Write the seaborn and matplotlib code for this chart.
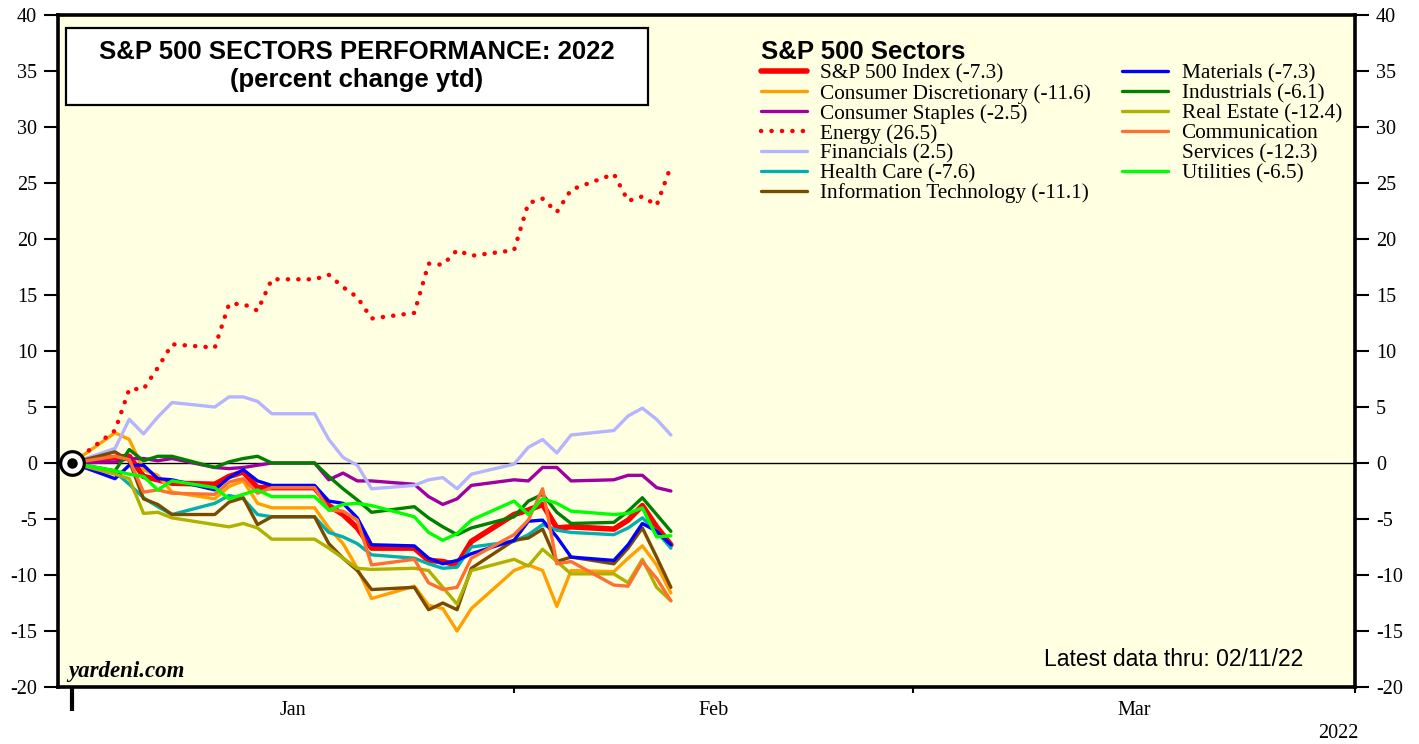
import numpy as np
import pandas as pd
import matplotlib
matplotlib.use("Agg")
import matplotlib.pyplot as plt
import seaborn as sns
from matplotlib.lines import Line2D
from matplotlib.patches import Rectangle

# ---------------- data ----------------
dates = ["2021-12-31",
         "2022-01-03", "2022-01-04", "2022-01-05", "2022-01-06", "2022-01-07",
         "2022-01-10", "2022-01-11", "2022-01-12", "2022-01-13", "2022-01-14",
         "2022-01-17", "2022-01-18", "2022-01-19", "2022-01-20", "2022-01-21",
         "2022-01-24", "2022-01-25", "2022-01-26", "2022-01-27", "2022-01-28",
         "2022-01-31", "2022-02-01", "2022-02-02", "2022-02-03", "2022-02-04",
         "2022-02-07", "2022-02-08", "2022-02-09", "2022-02-10", "2022-02-11"]

sp500 = [0, 0.5, 0.6, -1.2, -1.5, -1.8, -1.9, -1.2, -0.8, -2.2, -2.2, -2.2, -3.8, -4.6, -5.8,
         -7.6, -7.6, -8.7, -8.8, -9.1, -7.0, -4.6, -4.2, -3.7, -5.8, -5.7, -5.9, -5.1, -3.8, -5.7, -7.3]
cons_disc = [0, 2.7, 2.1, -0.6, -1.1, -2.6, -3.2, -2.1, -1.6, -3.6, -4.0, -4.0, -5.8, -7.2, -9.4,
             -12.1, -11.0, -12.7, -13.0, -15.0, -13.0, -9.6, -9.1, -9.6, -12.8, -9.6, -9.7, -8.5, -7.4, -9.1, -11.6]
cons_staples = [0, 0.1, 0.4, 0.4, 0.2, 0.4, -0.4, -0.5, -0.4, -0.2, 0.0, 0.0, -1.5, -0.9, -1.6,
                -1.6, -1.9, -3.0, -3.7, -3.2, -2.0, -1.5, -1.6, -0.4, -0.4, -1.6, -1.5, -1.1, -1.1, -2.2, -2.5]
energy = [0, 2.9, 6.6, 6.6, 8.5, 10.6, 10.3, 14.2, 14.2, 13.6, 16.4, 16.4, 16.8, 15.7, 14.8,
          12.9, 13.4, 17.8, 17.7, 19.0, 18.5, 19.0, 23.2, 23.6, 22.4, 24.4, 25.8, 23.4, 23.8, 23.0, 26.5]
financials = [0, 1.3, 3.9, 2.6, 4.1, 5.4, 5.0, 5.9, 5.9, 5.5, 4.4, 4.4, 2.1, 0.5, -0.2,
              -2.3, -2.0, -1.5, -1.3, -2.3, -1.0, -0.1, 1.4, 2.1, 0.9, 2.5, 2.9, 4.2, 4.9, 3.9, 2.5]
health_care = [0, -0.8, -1.9, -3.1, -3.9, -4.6, -3.6, -2.9, -3.2, -4.6, -4.8, -4.8, -6.2, -6.6, -7.2,
               -8.2, -8.5, -9.0, -9.4, -9.3, -7.5, -7.0, -6.4, -5.5, -6.0, -6.2, -6.4, -5.8, -4.9, -6.1, -7.6]
info_tech = [0, 1.0, 0.2, -3.2, -3.7, -4.6, -4.6, -3.5, -3.1, -5.5, -4.8, -4.8, -7.2, -8.5, -9.6,
             -11.3, -11.1, -13.1, -12.5, -13.1, -9.4, -6.9, -6.7, -5.9, -8.8, -8.4, -9.0, -7.6, -5.8, -8.4, -11.1]
materials = [0, -1.4, -0.2, -0.2, -1.4, -1.5, -2.4, -1.3, -0.6, -1.6, -2.0, -2.0, -3.4, -3.6, -4.9,
             -7.3, -7.4, -8.5, -9.0, -8.7, -8.1, -6.9, -5.2, -5.1, -6.6, -8.4, -8.7, -7.3, -5.4, -6.1, -7.3]
industrials = [0, -0.7, 1.2, 0.2, 0.6, 0.6, -0.4, 0.1, 0.4, 0.6, 0.0, 0.0, -1.2, -2.3, -3.3,
               -4.4, -3.9, -4.9, -5.7, -6.4, -5.8, -4.8, -3.4, -2.8, -4.4, -5.4, -5.3, -4.3, -3.1, -4.6, -6.1]
real_estate = [0, -1.0, -1.4, -4.5, -4.4, -4.9, -5.5, -5.7, -5.4, -5.8, -6.8, -6.8, -7.6, -8.5, -9.4,
               -9.5, -9.4, -9.6, -11.1, -12.6, -9.6, -8.6, -9.2, -7.7, -8.8, -9.9, -9.9, -10.7, -8.6, -11.1, -12.3]
comm_services = [0, 0.6, 0.3, -2.6, -2.4, -2.7, -2.8, -1.7, -1.4, -2.7, -2.2, -2.2, -4.2, -4.3, -5.1,
                 -9.1, -8.6, -10.7, -11.3, -11.1, -8.5, -6.4, -5.1, -2.3, -9.0, -8.8, -10.9, -11.0, -8.8, -10.3, -12.3]
utilities = [0, -0.7, -1.0, -1.2, -2.4, -1.6, -2.2, -3.2, -2.8, -2.4, -3.0, -3.0, -4.2, -3.7, -3.6,
             -3.8, -4.8, -6.2, -6.9, -6.3, -5.1, -3.4, -4.6, -3.2, -3.6, -4.3, -4.6, -4.5, -4.0, -6.6, -6.5]

sector_names = ["S&P 500 Index (-7.3)", "Consumer Discretionary (-11.6)", "Consumer Staples (-2.5)",
                "Energy (26.5)", "Financials (2.5)", "Health Care (-7.6)",
                "Information Technology (-11.1)", "Materials (-7.3)", "Industrials (-6.1)",
                "Real Estate (-12.4)", "Communication Services (-12.3)", "Utilities (-6.5)"]
sector_values = [sp500, cons_disc, cons_staples, energy, financials, health_care,
                 info_tech, materials, industrials, real_estate, comm_services, utilities]
sector_colors = ["#ff0000", "#ffa000", "#a000a0", "#ff0000", "#b4b4ff", "#00b0b0",
                 "#7a4a00", "#0000ff", "#008000", "#b0b000", "#ff7030", "#00ff00"]

month_edges = ["2021-12-31", "2022-01-31", "2022-02-28", "2022-03-31"]
month_labels = ["Jan", "Feb", "Mar"]
y_ticks = list(range(-20, 45, 5))

# ---------------- figure ----------------
sns.set_theme(style="white")
plt.rcParams['font.family'] = ['Liberation Serif', 'DejaVu Serif']
plt.rcParams['axes.unicode_minus'] = False
plt.rcParams['text.color'] = 'black'
plt.rcParams['xtick.color'] = 'black'
plt.rcParams['ytick.color'] = 'black'
plt.rcParams['legend.labelcolor'] = 'black'

W, H = 1419, 744
fig = plt.figure(figsize=(W / 100, H / 100), dpi=100)
ax = fig.add_axes([58 / W, 57 / H, (1355 - 58) / W, (687 - 15) / H])
ax.set_facecolor("#ffffe2")

start = pd.Timestamp("2021-12-31")
day = np.array((pd.to_datetime(dates) - start).days)

frames = []
for name, vals in zip(sector_names, sector_values):
    frames.append(pd.DataFrame({"day": day, "value": vals, "sector": name}))
df = pd.concat(frames, ignore_index=True)

for i, (name, color) in enumerate(zip(sector_names, sector_colors)):
    sub = df[df["sector"] == name]
    kw = dict(color=color, linewidth=2.4, label=name, ax=ax, zorder=3 + i * 0.01)
    if name.startswith("S&P"):
        kw["linewidth"] = 4.0
    if name.startswith("Energy"):
        kw["linewidth"] = 3.2
        kw["linestyle"] = (0, (0.05, 2.3))
        kw["dash_capstyle"] = "round"
    sns.lineplot(data=sub, x="day", y="value", **kw)

ax.axhline(0, color="black", linewidth=1.0, zorder=2)

# start marker
ax.plot([day[0]], [sp500[0]], marker="o", markersize=17, markerfacecolor="white",
        markeredgecolor="black", markeredgewidth=2.3, zorder=10, linestyle="none")
ax.plot([day[0]], [sp500[0]], marker="o", markersize=6.5, color="black", zorder=11, linestyle="none")

# axes limits and ticks
edges = np.array((pd.to_datetime(month_edges) - start).days)
mids = (edges[:-1] + edges[1:]) / 2
ax.set_xlim(-1, 90)
ax.set_ylim(-20, 40)
ax.set_xticks(edges)
ax.set_xticklabels([""] * len(edges))
ax.set_xticks(mids, minor=True)
ax.set_xticklabels(month_labels, minor=True)
ax.tick_params(axis="x", which="major", direction="out", length=4, width=1.5, color="black", bottom=True)
ax.tick_params(axis="x", which="minor", length=0, pad=10, labelsize=14.5, bottom=True, labelcolor="black")
t0 = ax.xaxis.get_major_ticks()[0]
t0.tick1line.set_markersize(17)
t0.tick1line.set_markeredgewidth(3)

ax.set_yticks(y_ticks)
ax.tick_params(axis="y", which="major", left=True, right=True, labelleft=True, labelright=True,
               direction="out", length=10, width=1.5, color="black", pad=5, labelsize=14.5,
               labelcolor="black")
for s in ax.spines.values():
    s.set_visible(True)
    s.set_color("black")
    s.set_linewidth(2.6)
ax.set_xlabel("")
ax.set_ylabel("")
ax.grid(False)

# legend
h = {ln.get_label(): ln for ln in ax.get_lines()}
blank = Line2D([], [], linestyle="none")
handles = [h[n] for n in sector_names[:7]] + [h[sector_names[7]], h[sector_names[8]], h[sector_names[9]],
                                              h[sector_names[10]], blank, h[sector_names[11]], blank]
labels = sector_names[:7] + [sector_names[7], sector_names[8], sector_names[9],
                             "Communication", "Services (-12.3)", sector_names[11], ""]
leg = ax.legend(handles, labels, ncol=2, loc="upper left",
                bbox_to_anchor=(761 / W, 1 - 40 / H), bbox_transform=fig.transFigure,
                frameon=False, title="S&P 500 Sectors",
                title_fontproperties={"family": "Liberation Sans", "weight": "bold", "size": 18.5},
                alignment="left", prop={"family": "Liberation Serif", "size": 15.3},
                handlelength=2.15, handletextpad=0.65, columnspacing=1.45,
                labelspacing=0.0, borderpad=0, borderaxespad=0)
leg.set_zorder(20)
leg.get_title().set_color("black")
for t in leg.get_texts():
    t.set_color("black")

# title box
ax.add_patch(Rectangle((66 / W, 1 - 105 / H), (648 - 66) / W, (105 - 28) / H,
                       transform=fig.transFigure, facecolor="white", edgecolor="black",
                       linewidth=1.6, zorder=15))
fig.text(357 / W, 1 - 52 / H, "S&P 500 SECTORS PERFORMANCE: 2022", ha="center", va="center",
         family="Liberation Sans", weight="bold", size=18.5, zorder=16, color="black")
fig.text(357 / W, 1 - 80 / H, "(percent change ytd)", ha="center", va="center",
         family="Liberation Sans", weight="bold", size=18.5, zorder=16, color="black")

fig.text(68 / W, 1 - 672 / H, "yardeni.com", ha="left", va="center",
         family="Liberation Serif", weight="bold", style="italic", size=16.5, color="black")
fig.text(1174 / W, 1 - 660 / H, "Latest data thru: 02/11/22", ha="center", va="center",
         family="Liberation Sans", size=16.5, color="black")
fig.text(1338 / W, 1 - 733 / H, "2022", ha="center", va="center",
         family="Liberation Serif", size=14.5, color="black")

fig.savefig("out.png", dpi=100)
